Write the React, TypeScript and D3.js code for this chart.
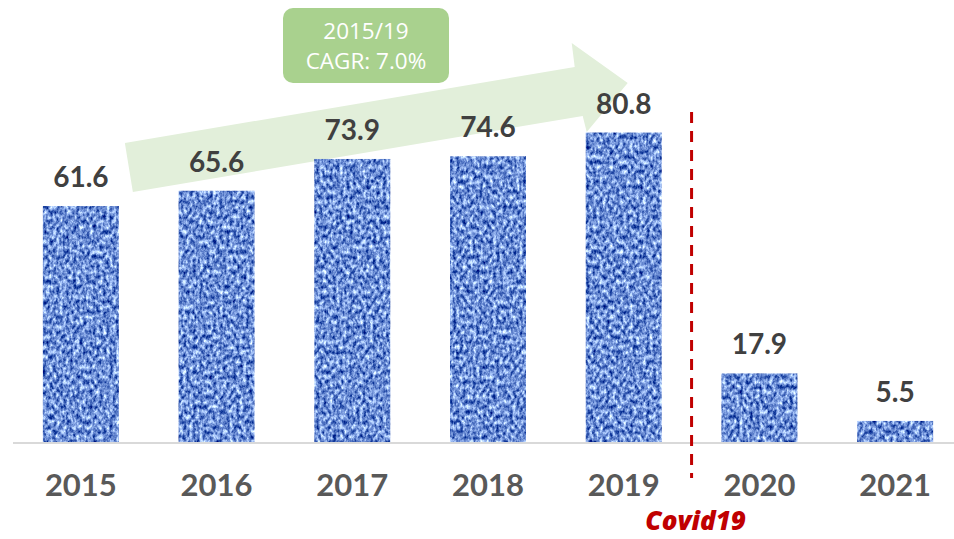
import React from "react";
import * as d3 from "d3";

const years = ["2015", "2016", "2017", "2018", "2019", "2020", "2021"];
const values = [61.6, 65.6, 73.9, 74.6, 80.8, 17.9, 5.5];
const cagrLines = ["2015/19", "CAGR: 7.0%"];
const covidLabel = "Covid19";

const W = 954;
const H = 539;

export default function App() {
  const x = d3.scaleBand<string>().domain(years).range([13, 963]).paddingInner(0.44).paddingOuter(0.22);
  const y = d3.scaleLinear().domain([0, 90]).range([442, 442 - 3.83 * 90]);
  const bw = x.bandwidth();

  // annotation geometry anchored to the scales
  const ax0 = (x("2015") as number) + bw + 6;
  const tipX = (x("2019") as number) + 42;
  const arrowPts: [number, number][] = [
    [ax0, 143],
    [tipX - 53, 67],
    [tipX - 56, 43],
    [tipX, 83],
    [tipX - 41, 132],
    [tipX - 45, 116],
    [ax0 + 8, 192],
  ];
  const arrowPath = d3.line()(arrowPts) + "Z";

  const covidX = (x("2019") as number) + bw + ((x("2020") as number) - (x("2019") as number) - bw) / 2;

  const font = "Lato, 'Open Sans', sans-serif";

  return (
    <svg width={W} height={H} style={{ position: "absolute", left: 0, top: 0, background: "#fff" }}>
      <defs>
        <filter id="denim" x="0" y="0" width="1" height="1" colorInterpolationFilters="sRGB">
          <feTurbulence type="fractalNoise" baseFrequency="0.3 0.2" numOctaves={3} seed={11} result="n" />
          <feColorMatrix
            in="n"
            type="matrix"
            values="1.5 0 0 0 -0.32  1.4 0 0 0 -0.14  0.95 0 0 0 0.36  0 0 0 0 1"
            result="c"
          />
          <feComposite in="c" in2="SourceGraphic" operator="in" />
        </filter>
      </defs>

      <path d={arrowPath} fill="#E2EFDA" />

      <g>
        {years.map((yr, i) => (
          <rect
            key={yr}
            x={x(yr)}
            y={y(values[i])}
            width={bw}
            height={y(0) - y(values[i])}
            fill="#6f92d2"
            filter="url(#denim)"
          />
        ))}
      </g>

      <line x1={13} x2={W} y1={443} y2={443} stroke="#d9d9d9" strokeWidth={2} />

      <line
        x1={covidX}
        x2={covidX}
        y1={112}
        y2={478}
        stroke="#C00000"
        strokeWidth={3}
        strokeDasharray="11 8"
      />

      <g fontFamily={font} fontWeight={700} fontSize={28} fill="#404040" textAnchor="middle">
        {years.map((yr, i) => (
          <text key={yr} x={(x(yr) as number) + bw / 2} y={y(values[i]) - 19}>
            {values[i].toFixed(1)}
          </text>
        ))}
      </g>

      <g fontFamily={font} fontWeight={700} fontSize={31} fill="#595959" textAnchor="middle">
        {years.map((yr) => (
          <text key={yr} x={(x(yr) as number) + bw / 2} y={496}>
            {yr}
          </text>
        ))}
      </g>

      <text
        x={covidX + 4}
        y={530}
        textAnchor="middle"
        fontFamily="'Open Sans', sans-serif"
        fontWeight={800}
        fontStyle="italic"
        fontSize={26}
        fill="#C00000"
      >
        {covidLabel}
      </text>

      <rect x={283} y={8} width={166} height={75} rx={10} fill="#A9D18E" />
      <g fontFamily="'Open Sans', sans-serif" fontSize={22.5} fill="#fff" textAnchor="middle">
        {cagrLines.map((t, i) => (
          <text key={t} x={366} y={39 + i * 30}>
            {t}
          </text>
        ))}
      </g>
    </svg>
  );
}
